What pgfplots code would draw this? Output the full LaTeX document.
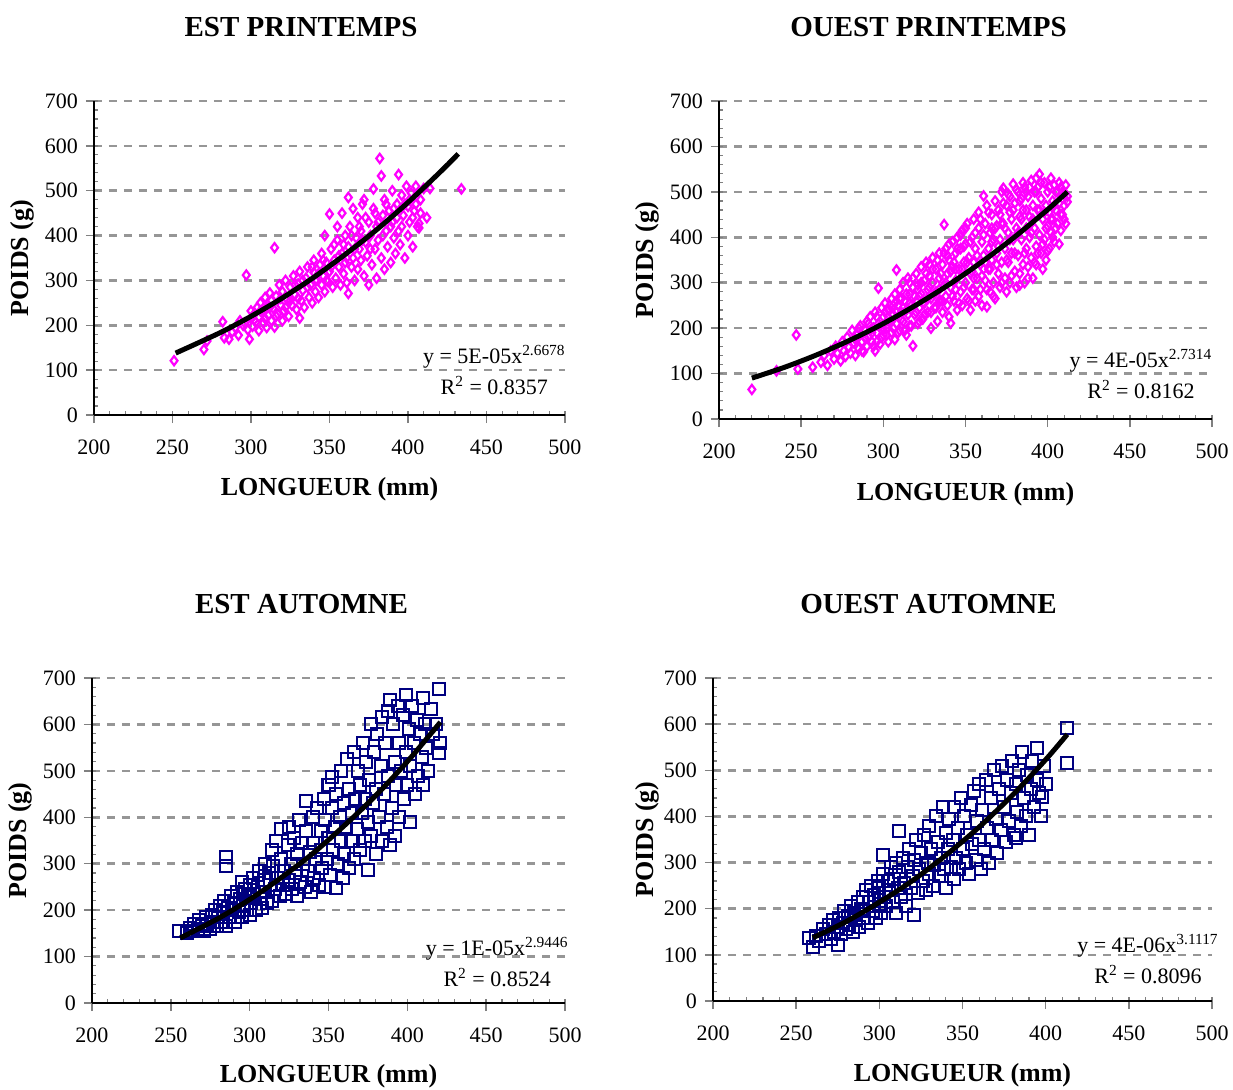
\documentclass[border=0pt]{standalone}
\usepackage{fontspec}
\setmainfont{Liberation Serif}
\usepackage{pgfplots}
\pgfplotsset{compat=1.18}
\definecolor{mag}{RGB}{255,0,255}
\definecolor{navyb}{RGB}{0,0,128}
\definecolor{gridgray}{RGB}{150,150,150}
\tikzset{eqn/.style={align=center, font=\fontsize{11}{15.5}\selectfont}}

\pgfplotsset{
 panel/.style={
  scale only axis, anchor=south west,
  xmin=200,xmax=500,ymin=0,ymax=700,
  xtick={200,250,...,500}, ytick={0,100,...,700},
  minor x tick num=4, minor y tick num=4,
  axis x line*=bottom, axis y line*=left,
  axis line style={-, line width=0.75pt},
  tick align=center,
  major tick length=6pt, minor tick length=1.9pt,
  every major x tick/.append style={yshift=-1.1pt, line width=0.7pt},
  every major y tick/.append style={xshift=-1.1pt, line width=0.7pt},
  every minor x tick/.append style={yshift=0.95pt, line width=0.6pt},
  every minor y tick/.append style={xshift=0.95pt, line width=0.6pt},
  ymajorgrids, major grid style={gridgray, dash pattern=on 4pt off 3.5pt, line width=1.3pt},
  /pgf/number format/assume math mode=true,
  tick label style={font=\fontsize{11}{13}\selectfont},
  xticklabel style={yshift=-6pt},
  yticklabel style={xshift=-1.5pt},
  label style={font=\bfseries\fontsize{13}{15}\selectfont},
  xlabel={LONGUEUR (mm)}, ylabel={POIDS (g)},
  clip=false, clip marker paths=true,
 },
 pinkmarks/.style={only marks, mark=diamond, mark size=2.3pt, mark options={draw=mag, fill=white, line width=1.1pt, solid}},
 bluemarks/.style={only marks, mark=square, mark size=3.0pt, mark options={draw=navyb, fill=white, line width=1pt, solid}},
 fitline/.style={black, line width=2.5pt, smooth, no markers},
}

\begin{document}
\begin{tikzpicture}
\useasboundingbox (0,0) rectangle (616.5pt,544.5pt);

% ---------------- EST PRINTEMPS ----------------
\begin{axis}[panel, at={(47pt,337pt)}, width=235.5pt, height=157pt,
  xlabel style={at={(axis description cs:0.5,0)}, anchor=center, yshift=-37pt},
  ylabel style={at={(axis description cs:0,0.5)}, anchor=center, yshift=36pt}]
\addplot[pinkmarks] coordinates {
(251,121)(270,146)(272,165)(282,208)(283,172)(286,169)(288,185)(290,195)(292,178)(293,210)
(295,200)(297,312)(298,190)(299,169)(300,215)(300,232)(301,198)(302,225)(303,207)(304,240)
(305,188)(305,218)(306,250)(307,230)(308,205)(309,262)(310,195)(310,240)(311,222)(312,272)
(313,210)(313,255)(314,238)(315,373)(315,196)(316,265)(317,225)(318,290)(319,245)(320,210)
(320,275)(321,232)(322,300)(323,258)(324,220)(325,285)(326,245)(327,310)(328,268)(329,235)
(330,292)(331,216)(331,320)(332,255)(333,278)(334,240)(335,305)(336,330)(337,262)(338,290)
(339,250)(340,318)(340,345)(341,275)(342,300)(343,262)(344,335)(345,290)(345,360)(346,310)
(347,275)(348,340)(349,298)(350,448)(350,320)(351,370)(352,285)(353,345)(354,305)(355,390)
(356,330)(357,290)(358,450)(358,360)(359,315)(360,400)(360,340)(361,295)(362,485)(362,271)
(362,375)(363,420)(364,330)(365,350)(366,300)(367,395)(368,440)(368,325)(369,370)(370,345)
(370,410)(371,470)(372,310)(373,385)(374,355)(375,430)(375,290)(376,400)(377,335)(378,504)
(378,460)(379,370)(380,420)(380,305)(381,390)(382,572)(383,533)(383,350)(384,445)(385,480)
(385,325)(386,410)(387,375)(388,455)(389,340)(390,500)(390,430)(391,395)(392,360)(393,470)
(394,536)(394,410)(395,380)(396,490)(397,445)(398,350)(399,510)(400,465)(400,400)(401,430)
(402,495)(403,375)(404,455)(405,510)(406,420)(407,427)(407,417)(408,480)(410,505)(412,440)
(414,505)(434,504)
(296,205)(302,212)(306,232)(309,215)(312,240)(316,220)(319,260)(322,240)(325,255)(328,290)
(330,260)(333,300)(336,285)(339,330)(341,300)(343,315)(346,345)(348,300)(351,330)(353,380)
(356,355)(359,380)(361,350)(364,400)(366,370)(369,420)(371,390)(373,440)(376,370)(379,450)
(381,430)(384,400)(386,470)(389,420)(391,460)(393,440)(396,420)(398,470)(401,480)(403,440)
(405,470)(408,450)(355,420)(365,460)(372,480)(347,400)
};
\addplot[fitline] coordinates {
(252,138)(280,183)(300,220)(320,261)(340,307)(360,358)(380,413)(400,474)(420,540)(432,582)
};
\node[eqn] at (axis cs:455,100) {y = 5E-05x\textsuperscript{2.6678}\\R\textsuperscript{2} = 0.8357};
\end{axis}

% ---------------- OUEST PRINTEMPS ----------------
\begin{axis}[panel, at={(359.5pt,335pt)}, width=246.5pt, height=159pt,
  xlabel style={at={(axis description cs:0.5,0)}, anchor=center, yshift=-37.5pt},
  ylabel style={at={(axis description cs:0,0.5)}, anchor=center, yshift=36pt}]
\addplot[pinkmarks] coordinates {
(220,65)(235,106)(247,185)(248,110)(257,114)(262,125)(264,140)(266,118)(268,150)(270,132)
(271,160)(272,145)(274,128)(275,170)(276,150)(277,138)(278,180)(279,158)(280,145)(281,195)
(282,168)(283,140)(284,185)(285,155)(286,205)(287,170)(288,148)(289,195)(290,215)(290,160)
(291,180)(292,225)(293,170)(294,200)(295,150)(295,235)(296,190)(297,288)(297,210)(298,165)
(299,245)(300,185)(300,225)(301,255)(302,200)(303,170)(303,240)(304,215)(305,265)(305,190)
(306,230)(307,175)(307,275)(308,328)(308,210)(309,250)(310,195)(310,285)(311,235)(312,215)
(312,300)(313,260)(314,185)(314,240)(315,310)(316,205)(316,275)(317,250)(318,161)(318,290)
(319,230)(320,320)(320,260)(321,210)(321,295)(322,245)(323,335)(323,275)(324,220)(325,305)
(325,255)(326,345)(327,235)(327,285)(328,315)(329,265)(329,200)(330,355)(330,300)(331,245)
(332,330)(332,280)(333,215)(334,365)(334,310)(335,260)(336,340)(336,235)(337,428)(337,295)
(338,375)(338,270)(339,320)(340,225)(340,350)(341,211)(341,290)(342,390)(342,335)(343,260)
(344,365)(344,305)(345,240)(345,400)(346,330)(347,280)(347,375)(348,250)(348,415)(349,345)
(350,300)(350,385)(351,265)(351,430)(352,355)(353,320)(353,240)(354,400)(354,285)(355,440)
(355,345)(356,260)(356,375)(357,310)(358,420)(358,455)(359,285)(359,340)(360,390)(360,250)
(361,491)(361,360)(362,305)(362,430)(363,247)(363,470)(364,375)(364,330)(365,280)(365,410)
(366,450)(366,350)(367,300)(367,395)(368,480)(368,265)(369,365)(369,425)(370,320)(370,460)
(371,290)(371,395)(372,500)(372,345)(373,508)(373,430)(374,310)(374,375)(375,470)(375,280)
(376,410)(376,345)(377,490)(377,300)(378,440)(378,365)(379,517)(379,395)(380,325)(380,475)
(381,420)(381,290)(382,500)(382,360)(383,445)(383,320)(384,395)(384,485)(385,340)(385,460)
(386,510)(386,300)(387,420)(387,375)(388,490)(388,335)(389,445)(389,400)(390,525)(390,355)
(391,470)(391,310)(392,420)(392,500)(393,380)(393,340)(394,460)(394,510)(395,539)(395,405)
(396,365)(396,485)(397,440)(397,330)(398,520)(398,395)(399,350)(399,470)(400,425)(400,500)
(401,375)(401,455)(402,530)(402,410)(403,480)(403,440)(404,515)(404,390)(405,460)(405,500)
(406,430)(407,520)(407,475)(408,450)(409,500)(410,470)(411,515)(412,478)(410,440)(408,415)
(283,175)(285,200)(287,150)(289,178)(291,210)(293,190)(294,160)(296,225)(298,205)(299,180)
(301,235)(302,185)(304,250)(305,215)(306,200)(307,255)(308,235)(309,190)(310,265)(311,220)
(312,245)(313,195)(314,275)(315,230)(316,255)(317,205)(318,310)(319,270)(320,235)(321,285)
(322,215)(323,300)(324,255)(325,230)(326,320)(327,265)(328,290)(329,235)(330,330)(331,275)
(332,245)(333,350)(334,285)(335,320)(336,260)(337,365)(338,300)(339,250)(340,385)(341,325)
(342,270)(343,345)(344,285)(345,375)(346,255)(347,405)(348,330)(349,290)(350,420)(351,345)
(352,260)(353,390)(354,325)(355,285)(356,410)(357,360)(358,270)(359,440)(360,315)(361,405)
(362,345)(363,285)(364,455)(365,330)(366,390)(367,270)(368,420)(369,340)(370,380)(371,450)
(372,300)(373,475)(374,420)(375,350)(376,495)(377,395)(378,315)(379,460)(380,365)(381,505)
(382,410)(383,295)(384,440)(385,520)(386,365)(387,460)(388,310)(389,510)(390,410)(391,440)
(392,345)(393,530)(394,365)(395,460)(396,520)(397,385)(398,455)(399,420)(400,370)(401,510)
(402,440)(403,400)(404,470)(405,420)(406,500)(407,385)(408,510)(409,450)(410,495)(411,430)
(412,490)(393,500)(387,500)(383,480)(377,455)(372,430)(366,420)(361,330)(355,310)(349,380)
(344,330)(339,360)(334,260)(328,340)(322,270)(316,300)(311,265)(306,250)(300,200)(296,170)
(292,195)
};
\addplot[fitline] coordinates {
(220,90)(240,114)(260,142)(280,174)(300,210)(320,251)(340,296)(360,346)(380,401)(400,461)(412,500)
};
\node[eqn] at (axis cs:456.8,98) {y = 4E-05x\textsuperscript{2.7314}\\R\textsuperscript{2} = 0.8162};
\end{axis}

% ---------------- EST AUTOMNE ----------------
\begin{axis}[panel, at={(46pt,43pt)}, width=236.5pt, height=162.5pt,
  xlabel style={at={(axis description cs:0.5,0)}, anchor=center, yshift=-36.5pt},
  ylabel style={at={(axis description cs:0,0.5)}, anchor=center, yshift=36pt}]
\addplot[bluemarks] coordinates {
(255,155)(260,150)(262,162)(264,155)(265,170)(267,160)(268,178)(270,165)(271,155)(272,185)
(273,170)(275,160)(276,190)(277,175)(278,200)(279,165)(280,185)(281,210)(282,175)(283,195)
(284,220)(285,315)(285,295)(285,165)(286,205)(287,185)(288,230)(289,200)(290,215)(291,175)
(292,240)(293,195)(294,225)(295,260)(295,185)(296,210)(297,245)(298,200)(299,230)(300,255)
(300,190)(301,215)(302,270)(303,235)(304,200)(305,250)(306,285)(307,225)(308,205)(309,265)
(310,300)(310,240)(311,215)(312,280)(313,255)(314,330)(314,220)(315,295)(316,245)(317,350)
(318,270)(319,230)(320,310)(320,375)(321,255)(322,285)(323,235)(324,340)(325,265)(325,380)
(326,300)(327,245)(328,355)(329,280)(330,320)(330,230)(331,395)(332,260)(333,345)(334,300)
(335,250)(336,435)(336,370)(337,285)(338,325)(339,240)(340,400)(340,345)(341,270)(342,310)
(343,420)(344,255)(345,370)(345,330)(346,290)(347,440)(348,250)(348,395)(349,310)(350,355)
(350,470)(351,275)(352,486)(352,420)(353,330)(354,380)(355,247)(355,450)(356,300)(357,400)
(358,350)(358,500)(359,270)(360,430)(360,320)(361,380)(362,525)(363,290)(363,460)(364,350)
(365,410)(366,540)(366,310)(367,440)(368,375)(369,500)(370,330)(370,470)(371,410)(372,560)
(373,350)(373,440)(374,520)(375,286)(375,390)(376,480)(377,600)(377,360)(378,430)(379,540)
(380,320)(380,460)(381,580)(382,400)(383,510)(384,350)(384,615)(385,450)(386,560)(387,380)
(388,490)(388,630)(389,653)(389,340)(390,420)(391,600)(392,520)(392,360)(393,470)(394,640)
(395,400)(395,560)(396,500)(397,620)(398,440)(399,663)(399,540)(400,470)(401,590)(402,390)
(402,510)(403,640)(404,560)(405,450)(406,610)(407,490)(408,580)(409,530)(410,656)(410,470)
(411,600)(412,550)(413,500)(415,633)(416,580)(418,600)(420,676)(420,539)(421,560)
};
\addplot[fitline] coordinates {
(256,140)(280,182)(300,223)(320,270)(340,322)(360,382)(380,447)(400,520)(421,605)
};
\node[eqn] at (axis cs:457,88) {y = 1E-05x\textsuperscript{2.9446}\\R\textsuperscript{2} = 0.8524};
\end{axis}

% ---------------- OUEST AUTOMNE ----------------
\begin{axis}[panel, at={(356.5pt,44pt)}, width=249.5pt, height=161.5pt,
  xlabel style={at={(axis description cs:0.5,0)}, anchor=center, yshift=-37pt},
  ylabel style={at={(axis description cs:0,0.5)}, anchor=center, yshift=33pt}]
\addplot[bluemarks] coordinates {
(258,136)(260,118)(262,140)(264,130)(266,155)(268,145)(270,165)(271,135)(272,175)(273,150)
(275,121)(275,160)(276,180)(277,145)(278,170)(279,195)(280,155)(281,185)(282,165)(283,205)
(284,150)(285,190)(286,175)(287,215)(288,160)(289,200)(290,225)(290,180)(291,195)(292,240)
(293,170)(294,215)(295,250)(296,195)(297,230)(298,180)(299,260)(300,210)(300,245)(301,190)
(302,316)(302,275)(303,225)(304,205)(305,260)(306,240)(307,290)(308,215)(309,265)(310,300)
(310,190)(311,245)(312,369)(312,280)(313,225)(314,310)(315,255)(316,205)(317,290)(318,330)
(319,245)(320,270)(321,186)(321,305)(322,350)(323,235)(324,285)(325,320)(326,260)(327,360)
(328,240)(329,300)(330,380)(330,275)(331,330)(332,250)(333,295)(334,400)(335,345)(336,270)
(337,310)(338,420)(339,285)(340,365)(340,245)(341,330)(342,395)(343,290)(344,350)(345,265)
(345,420)(346,310)(347,375)(348,285)(349,440)(350,330)(351,400)(352,300)(353,360)(354,275)
(355,425)(356,340)(357,455)(358,305)(359,390)(360,470)(360,350)(361,285)(362,415)(363,330)
(364,480)(365,375)(366,300)(367,440)(368,350)(369,500)(370,395)(371,320)(372,460)(373,370)
(374,510)(375,420)(376,345)(377,480)(378,390)(379,450)(380,520)(381,360)(382,470)(382,353)
(383,410)(384,500)(385,380)(386,540)(387,440)(388,400)(389,490)(390,360)(391,460)(392,520)
(393,420)(395,548)(395,480)(396,450)(397,400)(398,443)(399,510)(400,470)(413,591)(413,516)
};
\addplot[fitline] coordinates {
(260,137)(280,172)(300,214)(320,261)(340,316)(360,377)(380,446)(400,523)(413,578)
};
\node[eqn] at (axis cs:461.5,90) {y = 4E-06x\textsuperscript{3.1117}\\R\textsuperscript{2} = 0.8096};
\end{axis}

% titles
\node[font=\bfseries\fontsize{14.5}{17}\selectfont] at (150.5pt,531pt) {EST PRINTEMPS};
\node[font=\bfseries\fontsize{14.5}{17}\selectfont] at (464.25pt,531pt) {OUEST PRINTEMPS};
\node[font=\bfseries\fontsize{14.5}{17}\selectfont] at (150.75pt,242.5pt) {EST AUTOMNE};
\node[font=\bfseries\fontsize{14.5}{17}\selectfont] at (464.25pt,242.5pt) {OUEST AUTOMNE};
\end{tikzpicture}
\end{document}
